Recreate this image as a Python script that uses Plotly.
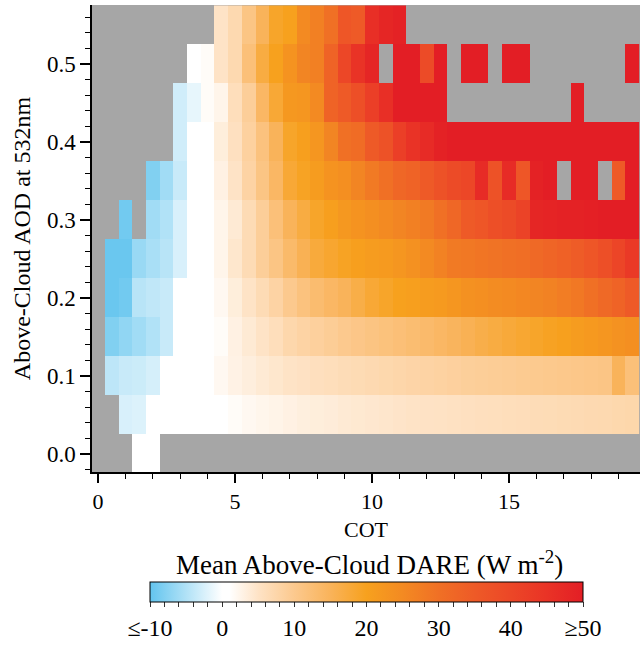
import plotly.graph_objects as go

N = None
COT = [0.0, 0.5, 1.0, 1.5, 2.0, 2.5, 3.0, 3.5, 4.0, 4.5,
       5.0, 5.5, 6.0, 6.5, 7.0, 7.5, 8.0, 8.5, 9.0, 9.5,
       10.0, 10.5, 11.0, 11.5, 12.0, 12.5, 13.0, 13.5, 14.0, 14.5,
       15.0, 15.5, 16.0, 16.5, 17.0, 17.5, 18.0, 18.5, 19.0, 19.5]
AOD = [0.00, 0.05, 0.10, 0.15, 0.20, 0.25, 0.30, 0.35, 0.40, 0.45, 0.50, 0.55]

R00 = [N,N,N,0,0, N,N,N,N,N, N,N,N,N,N, N,N,N,N,N, N,N,N,N,N, N,N,N,N,N, N,N,N,N,N, N,N,N,N,N]
R05 = [N,N,-2.5,-2.2,0, 0,0,0,0.5,1, 1.5,2,2.3,2.6,3, 3.3,3.5,3.7,4,4.2, 4.4,4.6,4.8,5,5.1,
       5.2,5.4,5.5,5.7,5.8, 6,6.1,6.3,6.4,6.6, 6.7,6.9,7,7.2,7.4]
R10 = [N,-4.2,-3.5,-3.3,-2.7, 0,0,0,0.8,2, 2.8,3.4,4,4.5,5, 5.3,5.7,6,6.3,6.6, 6.9,7.2,7.5,7.8,8,
       8.3,8.6,8.9,9.1,9.3, 9.5,9.7,9.9,10.1,10.3, 10.5,10.7,10.9,15,12]
R15 = [N,-8,-7,-6,-5, -3.5,0,0,0.5,1.5, 3,4,5,6,7.3, 8,8.7,9.3,10,10.6, 11.2,11.7,12.2,12.8,13.4,
       14,14.7,15.5,16.3,17, 17.7,18.3,19,19.6,20.3, 21,21.8,22.5,23.3,24]
R20 = [N,-9.5,-9,-4.5,-4, -3.5,0,0,0.5,2, 3.5,5,6.5,8,10, 11.5,13,14,15,16.5, 18,19,20,20.5,21,
       21.5,22.5,23.5,24,24.5, 25,25.5,26,26.5,27.5, 28.5,30,31.5,33,35]
R25 = [N,-9.5,-9.5,-6.5,-5.5, -4.5,-2.5,0,0.8,2.5, 4.5,6.5,9,11,13.5, 15.5,17.5,18.5,19.5,20.5,
       21,21.5,22.5,23.5,25, 26.5,28,28.5,29,29.5, 30,30.5,31.5,32.5,33.5, 34.5,36,38,40.5,43.5]
R30 = [N,N,-9,N,-6, -5,-2.5,0,0.5,2.5, 4,6.5,9,12,15, 17,19,20.5,22,23, 24,25,26,27,28,
       30,32,35,36,38, 39,41,48,48.5,49, 49,49.5,50,50,50]
R35 = [N,N,N,N,-8, -6,-3.5,0,1,3, 5,8,11,14,18, 19.5,21,23,24,26, 28,30,32,33,35,
       37,39,40,47,37, 47,36,49,50,N, 50,50,N,35,50]
R40 = [N,N,N,N,N, N,-3,0,0.8,3.5, 5.5,8.5,11.5,15,19, 20.5,22.5,26,30,31, 35,37,42,45,47,
       49,50,50,50,50, 50,50,50,50,50, 50,50,50,50,50]
R45 = [N,N,N,N,N, N,-3,-1.5,1.5,2.5, 6,9,14,18,22, 22.5,25,33,35,38, 42,46,50,50,50,
       50,N,N,N,N, N,N,N,N,N, 50,N,N,N,N]
R50 = [N,N,N,N,N, N,N,0,1.5,5, 7,12,17,20,23, 26,27,33,40,45, 48,N,50,50,39,
       50,N,50,50,N, 50,50,N,N,N, N,N,N,N,50]
R55 = [N,N,N,N,N, N,N,N,N,5, 7,11,15,19,20, 25,27,30,36,35, 46,48,49,N,N,
       N,N,N,N,N, N,N,N,N,N, N,N,N,N,N]
DARE = [R00, R05, R10, R15, R20, R25, R30, R35, R40, R45, R50, R55]

CB_LABEL_ALIAS = {"-10": "≤-10", "\u221210": "≤-10", "50": "≥50"}

ZMIN, ZMAX = -10, 50
stops = [(-10, "#62C4EE"), (0, "#FFFFFF"), (1, "#FFFFFF"), (5, "#FEE3C6"),
         (10, "#FCC98E"), (15, "#F9B35A"), (20, "#F7A11E"), (25, "#F38A22"),
         (30, "#F07025"), (35, "#EE5A27"), (40, "#EC4727"), (45, "#E93326"),
         (50, "#E31E25")]
colorscale = [[(v - ZMIN) / (ZMAX - ZMIN), c] for v, c in stops]

FONT = "Liberation Serif, Times New Roman, serif"
W, H = 640, 647
ML, MR, MT, MB = 92, 0, 5, H - 472
PW, PH = W - ML - MR, H - MT - MB


def px_x(wx):
    return (wx - ML) / PW


def px_y(wy):
    return (H - MB - wy) / PH


fig = go.Figure()
fig.add_trace(go.Heatmap(
    x=COT, y=AOD, z=DARE,
    zmin=ZMIN, zmax=ZMAX, colorscale=colorscale,
    hoverongaps=False,
    colorbar=dict(
        orientation="h",
        x=px_x(366.5), xanchor="center", xref="paper",
        y=px_y(582), yanchor="top", yref="paper",
        lenmode="pixels", len=433,
        thicknessmode="pixels", thickness=20,
        xpad=0, ypad=0,
        outlinecolor="black", outlinewidth=1,
        tickmode="linear", tick0=-10, dtick=2, ticklabelstep=5,
        labelalias=CB_LABEL_ALIAS,
        ticks="outside", ticklen=5, tickcolor="#333",
        tickfont=dict(family=FONT, size=24, color="black"),
    ),
))

fig.update_layout(
    width=W, height=H,
    margin=dict(l=ML, r=MR, t=MT, b=MB, autoexpand=False),
    paper_bgcolor="white",
    plot_bgcolor="#A6A6A6",
    font=dict(family=FONT, color="black"),
    xaxis=dict(
        range=[-0.22, 19.78], showgrid=False, zeroline=False,
        showline=True, linecolor="black", linewidth=1.5,
        ticks="outside", ticklen=9, tickwidth=1.5, tickcolor="black",
        tick0=0, dtick=5,
        minor=dict(dtick=1, tick0=0, ticks="outside", ticklen=5, tickcolor="black", tickwidth=1),
        tickfont=dict(family=FONT, size=22),
        title=dict(text="COT", font=dict(family=FONT, size=22), standoff=8),
    ),
    yaxis=dict(
        range=[-0.023, 0.5756], showgrid=False, zeroline=False,
        showline=True, linecolor="black", linewidth=1.5,
        ticks="outside", ticklen=10, tickwidth=1.5, tickcolor="black",
        tick0=0, dtick=0.1, tickformat=".1f",
        minor=dict(dtick=0.02, tick0=0, ticks="outside", ticklen=5, tickcolor="black", tickwidth=1),
        tickfont=dict(family=FONT, size=23),
        title=dict(text="Above-Cloud AOD at 532nm", font=dict(family=FONT, size=24), standoff=10),
    ),
    annotations=[dict(
        text="Mean Above-Cloud DARE (W m<sup>-2</sup>)",
        xref="paper", yref="paper",
        x=px_x(369), y=px_y(563),
        xanchor="center", yanchor="middle", showarrow=False,
        font=dict(family=FONT, size=27, color="black"),
    )],
)

fig.write_html(
    "out.html",
    config={"displayModeBar": False},
    post_script="document.body.style.margin='0px';document.body.style.overflow='hidden';",
)
